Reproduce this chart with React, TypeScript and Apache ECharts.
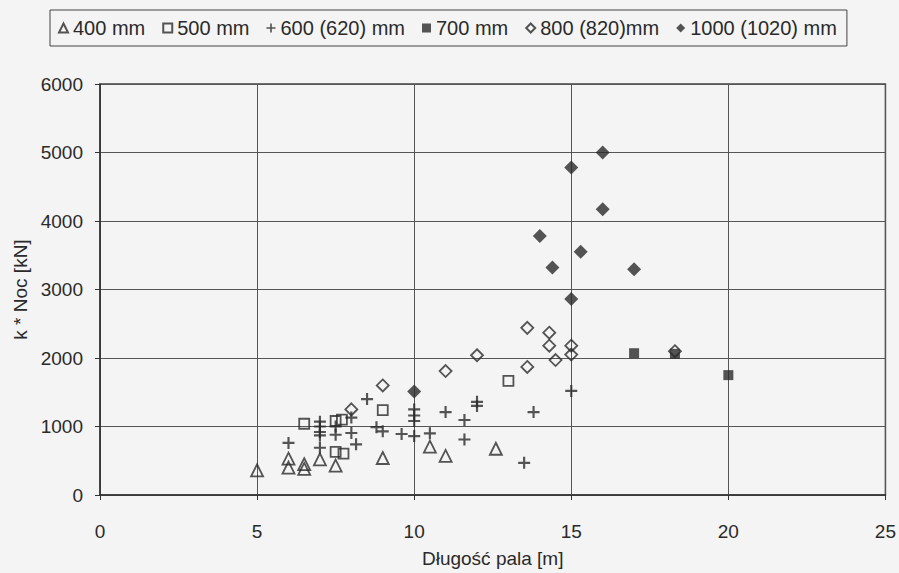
import React, { useEffect, useRef } from "react";
import * as echarts from "echarts";

const seriesNames = ["400 mm", "500 mm", "600 (620) mm", "700 mm", "800 (820)mm", "1000 (1020) mm"];

const xTicks = [0, 5, 10, 15, 20, 25];
const yTicks = [0, 1000, 2000, 3000, 4000, 5000, 6000];

const d400: [number, number][] = [
  [5, 360], [6, 530], [6, 400], [6.5, 450], [6.5, 380], [7, 520], [7.5, 430],
  [9, 540], [10.5, 705], [11, 570], [12.6, 675],
];
const d500: [number, number][] = [
  [6.5, 1040], [7.5, 1080], [7.7, 1100], [7.5, 630], [7.75, 605], [9, 1240], [13, 1665],
];
const d600: [number, number][] = [
  [6, 760], [7, 1070], [7, 1000], [7, 920], [7, 870], [7, 690], [7.5, 1000], [7.5, 880],
  [8, 1130], [8, 905], [8.15, 740], [8.5, 1400], [8.8, 990], [9, 930], [9.6, 890],
  [10, 1250], [10, 1160], [10, 1080], [10, 860], [10.5, 900], [11, 1210], [11.6, 1095],
  [11.6, 810], [12, 1360], [12, 1300], [13.5, 470], [13.8, 1210], [15, 1520],
];
const d700: [number, number][] = [
  [17, 2070], [18.3, 2060], [20, 1750],
];
const d800: [number, number][] = [
  [8, 1250], [9, 1600], [11, 1810], [12, 2040], [13.6, 2440], [14.3, 2370], [14.3, 2180],
  [13.6, 1870], [14.5, 1970], [15, 2180], [15, 2050], [18.3, 2100],
];
const d1000: [number, number][] = [
  [10, 1510], [14, 3780], [14.4, 3320], [15, 4780], [15, 2860], [15.3, 3550], [16, 5000],
  [16, 4170], [17, 3295],
];

const INK = "#2a2a2a";
const FONT = "'Liberation Sans', Arial, sans-serif";
const PLUS = "path://M4.1,0H5.9V4.1H10V5.9H5.9V10H4.1V5.9H0V4.1H4.1Z";

export default function App() {
  const ref = useRef<HTMLDivElement>(null);
  useEffect(() => {
    const chart = echarts.init(ref.current!, null, { renderer: "svg" });
    const outline = { color: "rgba(0,0,0,0)", borderColor: INK, borderWidth: 1.8 };
    const filled = { color: INK, borderWidth: 0 };
    const mk = (name: string, data: [number, number][], symbol: string, size: number, style: any) => ({
      name,
      type: "scatter",
      data,
      symbol,
      symbolSize: size,
      itemStyle: style,
      emphasis: { disabled: true },
    });
    chart.setOption({
      animation: false,
      backgroundColor: "#f4f4f4",
      textStyle: { fontFamily: FONT },
      legend: {
        left: 50,
        top: 10,
        padding: [8, 10, 8, 8],
        itemGap: 17,
        itemWidth: 9,
        itemHeight: 9,
        borderColor: "#444",
        borderWidth: 1,
        textStyle: { fontSize: 20, color: INK, fontFamily: FONT },
        data: seriesNames,
      },
      grid: { left: 100, right: 12, top: 84, bottom: 78, show: true, borderColor: "#444", borderWidth: 1.5 },
      xAxis: {
        type: "value",
        min: xTicks[0],
        max: xTicks[xTicks.length - 1],
        interval: 5,
        name: "Długość pala [m]",
        nameLocation: "middle",
        nameGap: 54,
        nameTextStyle: { fontSize: 19, color: INK, fontFamily: FONT },
        axisLine: { show: true, onZero: false, lineStyle: { color: "#333", width: 1.5 } },
        axisTick: { show: true, length: 5, lineStyle: { color: "#333" } },
        axisLabel: { fontSize: 19, color: INK, margin: 27, fontFamily: FONT, formatter: (v: number) => String(v) },
        splitLine: { show: true, lineStyle: { color: "#555", width: 1 } },
      },
      yAxis: {
        type: "value",
        min: yTicks[0],
        max: yTicks[yTicks.length - 1],
        interval: 1000,
        name: "k * Noc [kN]",
        nameLocation: "middle",
        nameGap: 68,
        nameTextStyle: { fontSize: 19, color: INK, fontFamily: FONT },
        axisLine: { show: true, onZero: false, lineStyle: { color: "#333", width: 1.5 } },
        axisTick: { show: true, length: 5, lineStyle: { color: "#333" } },
        axisLabel: { fontSize: 19, color: INK, margin: 17, fontFamily: FONT, formatter: (v: number) => String(v) },
        splitLine: { show: true, lineStyle: { color: "#555", width: 1 } },
      },
      series: [
        mk(seriesNames[0], d400, "triangle", 12, outline),
        mk(seriesNames[1], d500, "rect", 10, outline),
        mk(seriesNames[2], d600, PLUS, 12, filled),
        mk(seriesNames[3], d700, "rect", 10, filled),
        mk(seriesNames[4], d800, "diamond", 12, outline),
        mk(seriesNames[5], d1000, "diamond", 14, filled),
      ],
    });
    return () => chart.dispose();
  }, []);
  return <div ref={ref} style={{ position: "fixed", left: 0, top: 0, width: 899, height: 573 }} />;
}
